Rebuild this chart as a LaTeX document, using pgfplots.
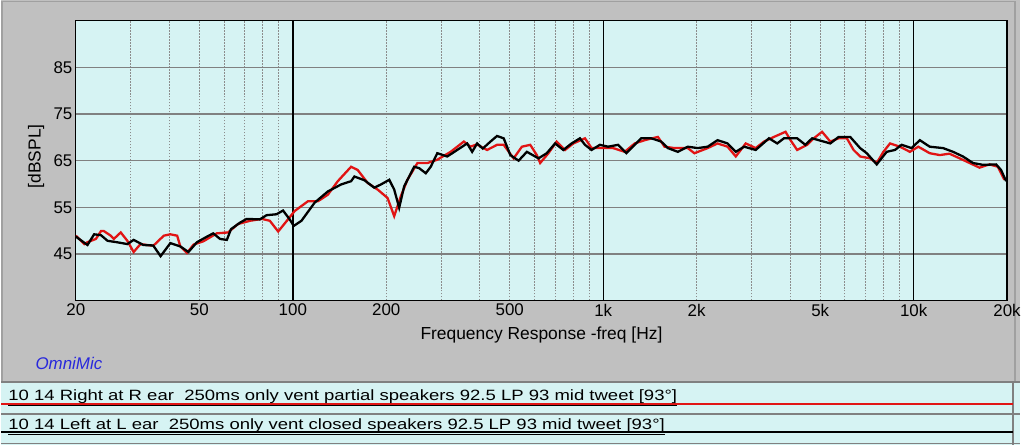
\documentclass[border=0pt]{standalone}
\usepackage{graphicx}
\usepackage{pgfplots}
\pgfplotsset{compat=1.18}
\usepackage{fontspec}
\setmainfont{Liberation Sans}
\definecolor{panel}{RGB}{192,192,192}
\definecolor{paneledge}{RGB}{160,160,160}
\definecolor{plotbg}{RGB}{214,243,243}
\definecolor{gridgray}{RGB}{128,128,128}
\definecolor{dotgray}{RGB}{140,140,140}
\definecolor{omniblue}{RGB}{40,40,220}
\definecolor{rcurve}{RGB}{225,20,20}
\begin{document}
\begin{tikzpicture}
\fill[panel] (0pt,0pt) rectangle (1024pt,447pt);
\draw[paneledge,line width=1.5pt] (1pt,64pt) -- (1pt,445.5pt) -- (1019pt,445.5pt) -- (1019pt,64pt);
% legend rows
\fill[plotbg] (0pt,0pt) rectangle (1024pt,63pt);
\draw[gridgray,line width=1.5pt] (0pt,63pt) -- (1024pt,63pt);
\draw[gridgray,line width=2pt] (0pt,31pt) -- (1024pt,31pt);
\draw[gridgray,line width=1.5pt] (0pt,1pt) -- (1024pt,1pt);
\draw[gridgray,line width=1.5pt] (1017pt,0pt) -- (1017pt,63pt);
\draw[rcurve,line width=2.5pt] (0pt,41pt) -- (1017pt,41pt);
\draw[black,line width=2.5pt] (0pt,13pt) -- (1017pt,13pt);
\node[anchor=base west,inner sep=0pt] at (7pt,44pt) {\scalebox{1.24}[1]{\fontsize{15}{18}\selectfont\underline{10 14 Right at R ear\ \ 250ms only vent partial speakers 92.5 LP 93 mid tweet [93°]}}};
\node[anchor=base west,inner sep=0pt] at (7pt,15pt) {\scalebox{1.24}[1]{\fontsize{15}{18}\selectfont\underline{10 14 Left at L ear\ \ 250ms only vent closed speakers 92.5 LP 93 mid tweet [93°]}}};
\node[anchor=center,inner sep=0pt] at (68pt,82pt) {\fontsize{17}{20}\selectfont\itshape\color{omniblue}OmniMic};
\begin{axis}[
  at={(75pt,145pt)}, anchor=south west,
  scale only axis, width=936pt, height=281pt,
  xmode=log, xmin=20, xmax=20000, ymin=35, ymax=95,
  axis background/.style={fill=plotbg},
  axis line style={black,line width=1.2pt},
  /pgf/number format/assume math mode=true,
  tick label style={font=\fontsize{17}{20}\selectfont},
  xtick={20,50,100,200,500,1000,2000,5000,10000,20000},
  xticklabels={20,50,100,200,500,1k,2k,5k,10k,20k},
  ytick={45,55,65,75,85},
  yticklabels={45,55,65,75,85},
  minor xtick={30,40,50,60,70,80,90,200,300,400,500,600,700,800,900,2000,3000,4000,5000,6000,7000,8000,9000},
  major tick length=0pt, minor tick length=0pt,
  xmajorgrids=false, ymajorgrids=true, xminorgrids=true,
  major grid style={gridgray,line width=1.5pt},
  minor grid style={dotgray,line width=0.8pt,dash pattern=on 1.5pt off 1.5pt},
  extra x ticks={100,1000,10000},
  extra x tick labels={},
  extra x tick style={grid=major, major grid style={black,line width=1.4pt}},
  xlabel={Frequency Response -freq [Hz]},
  ylabel={[dBSPL]},
  label style={font=\fontsize{17.5}{20}\selectfont},
  x label style={at={(axis description cs:0.5,0)},anchor=center,yshift=-35pt},
  y label style={at={(axis description cs:-0.0427,0.516)},anchor=center},
]
\addplot[rcurve,line width=2.3pt] coordinates {(20.0,48.9)(21.3,47.1)(21.8,47.5)(23.2,48.2)(24.1,49.9)(24.6,49.9)(25.9,48.9)(26.5,48.2)(27.9,49.6)(29.3,47.8)(30.7,45.4)(32.3,47.1)(34.8,46.8)(35.6,46.8)(38.4,48.9)(40.3,49.2)(42.4,48.9)(43.4,46.6)(45.6,45.2)(47.9,47.0)(51.5,47.7)(56.9,49.4)(61.9,49.6)(66.6,51.4)(72.8,52.1)(79.5,52.5)(84.3,52.1)(89.7,49.8)(95.4,52.0)(101.4,54.2)(111.9,56.3)(120.5,56.3)(129.7,57.7)(139.6,60.6)(154.1,63.7)(161.8,63.0)(174.3,60.2)(187.6,58.8)(201.9,57.0)(212.1,53.1)(222.9,57.4)(234.0,60.9)(252.0,64.5)(271.3,64.5)(292.0,65.2)(322.4,66.9)(355.6,69.1)(373.7,68.0)(391.5,68.5)(422.5,67.3)(454.9,68.4)(477.9,68.4)(514.4,65.5)(547.0,68.0)(581.9,68.4)(611.0,66.2)(626.4,64.5)(666.1,66.6)(707.9,69.1)(753.4,67.3)(801.0,68.7)(873.4,69.8)(917.0,67.7)(987.0,67.7)(1076,67.7)(1173,66.9)(1263,68.7)(1360,69.4)(1500,70.1)(1576,68.0)(1697,67.7)(1872,67.7)(1967,66.6)(2170,67.7)(2335,68.7)(2515,68.0)(2673,65.9)(2878,68.7)(3098,67.7)(3296,69.1)(3549,70.1)(3867,71.2)(4003,69.5)(4214,67.3)(4538,68.4)(4768,69.8)(5069,71.2)(5389,69.1)(5733,69.8)(6095,69.8)(6405,67.3)(6724,65.9)(7238,65.5)(7606,64.5)(7991,66.9)(8393,68.7)(9034,68.0)(9726,66.9)(10350,68.0)(11270,66.6)(12140,66.2)(13040,66.5)(14070,65.5)(15150,64.5)(16300,63.5)(17550,64.2)(18670,63.7)(19610,60.9)};
\addplot[black,line width=2.3pt] coordinates {(20.0,48.7)(21.8,46.9)(22.9,49.2)(24.1,49.0)(25.3,47.8)(27.1,47.5)(29.3,47.1)(30.7,48.0)(33.0,46.9)(35.5,46.8)(37.5,44.5)(40.3,47.3)(43.4,46.6)(46.1,45.4)(49.1,47.5)(52.9,48.7)(55.4,49.4)(58.3,48.2)(61.3,48.0)(63.2,50.3)(67.6,51.7)(71.0,52.5)(78.3,52.4)(82.3,53.3)(88.6,53.5)(93.0,54.3)(97.7,52.4)(100.7,51.0)(106.6,52.1)(117.6,56.0)(129.7,58.4)(143.1,59.9)(154.1,60.6)(157.9,61.6)(170.1,60.8)(183.0,59.2)(192.3,59.9)(204.5,60.9)(212.1,58.8)(220.1,54.9)(228.4,59.5)(246.0,63.7)(255.2,63.4)(268.1,62.3)(278.2,63.7)(292.0,66.6)(314.5,65.9)(338.5,67.3)(364.5,68.7)(378.2,66.9)(392.5,68.7)(409.2,67.6)(433.2,69.1)(454.9,70.3)(477.9,69.8)(502.0,66.2)(533.8,65.0)(567.5,66.9)(618.6,65.5)(657.7,66.6)(699.7,68.7)(743.9,67.3)(790.9,68.7)(841.4,69.8)(873.4,68.4)(917.0,67.3)(975.4,68.4)(1037,68.0)(1116,68.4)(1187,66.6)(1263,68.4)(1326,69.8)(1428,69.8)(1537,69.1)(1615,67.7)(1739,66.9)(1872,68.0)(2015,67.7)(2170,68.0)(2335,69.4)(2515,68.7)(2673,66.9)(2844,68.0)(3098,67.3)(3420,69.8)(3636,68.7)(3821,69.8)(4214,69.8)(4481,68.4)(4708,69.8)(4946,69.4)(5389,68.7)(5733,70.1)(6246,70.1)(6724,67.7)(7064,66.6)(7606,64.2)(8188,66.9)(8705,67.3)(9149,68.4)(9847,67.7)(10470,69.4)(11270,68.0)(12440,67.7)(13400,66.9)(14420,65.9)(15530,64.5)(16720,64.1)(18440,64.2)(19130,63.0)(19860,60.6)};
\end{axis}
\end{tikzpicture}
\end{document}
